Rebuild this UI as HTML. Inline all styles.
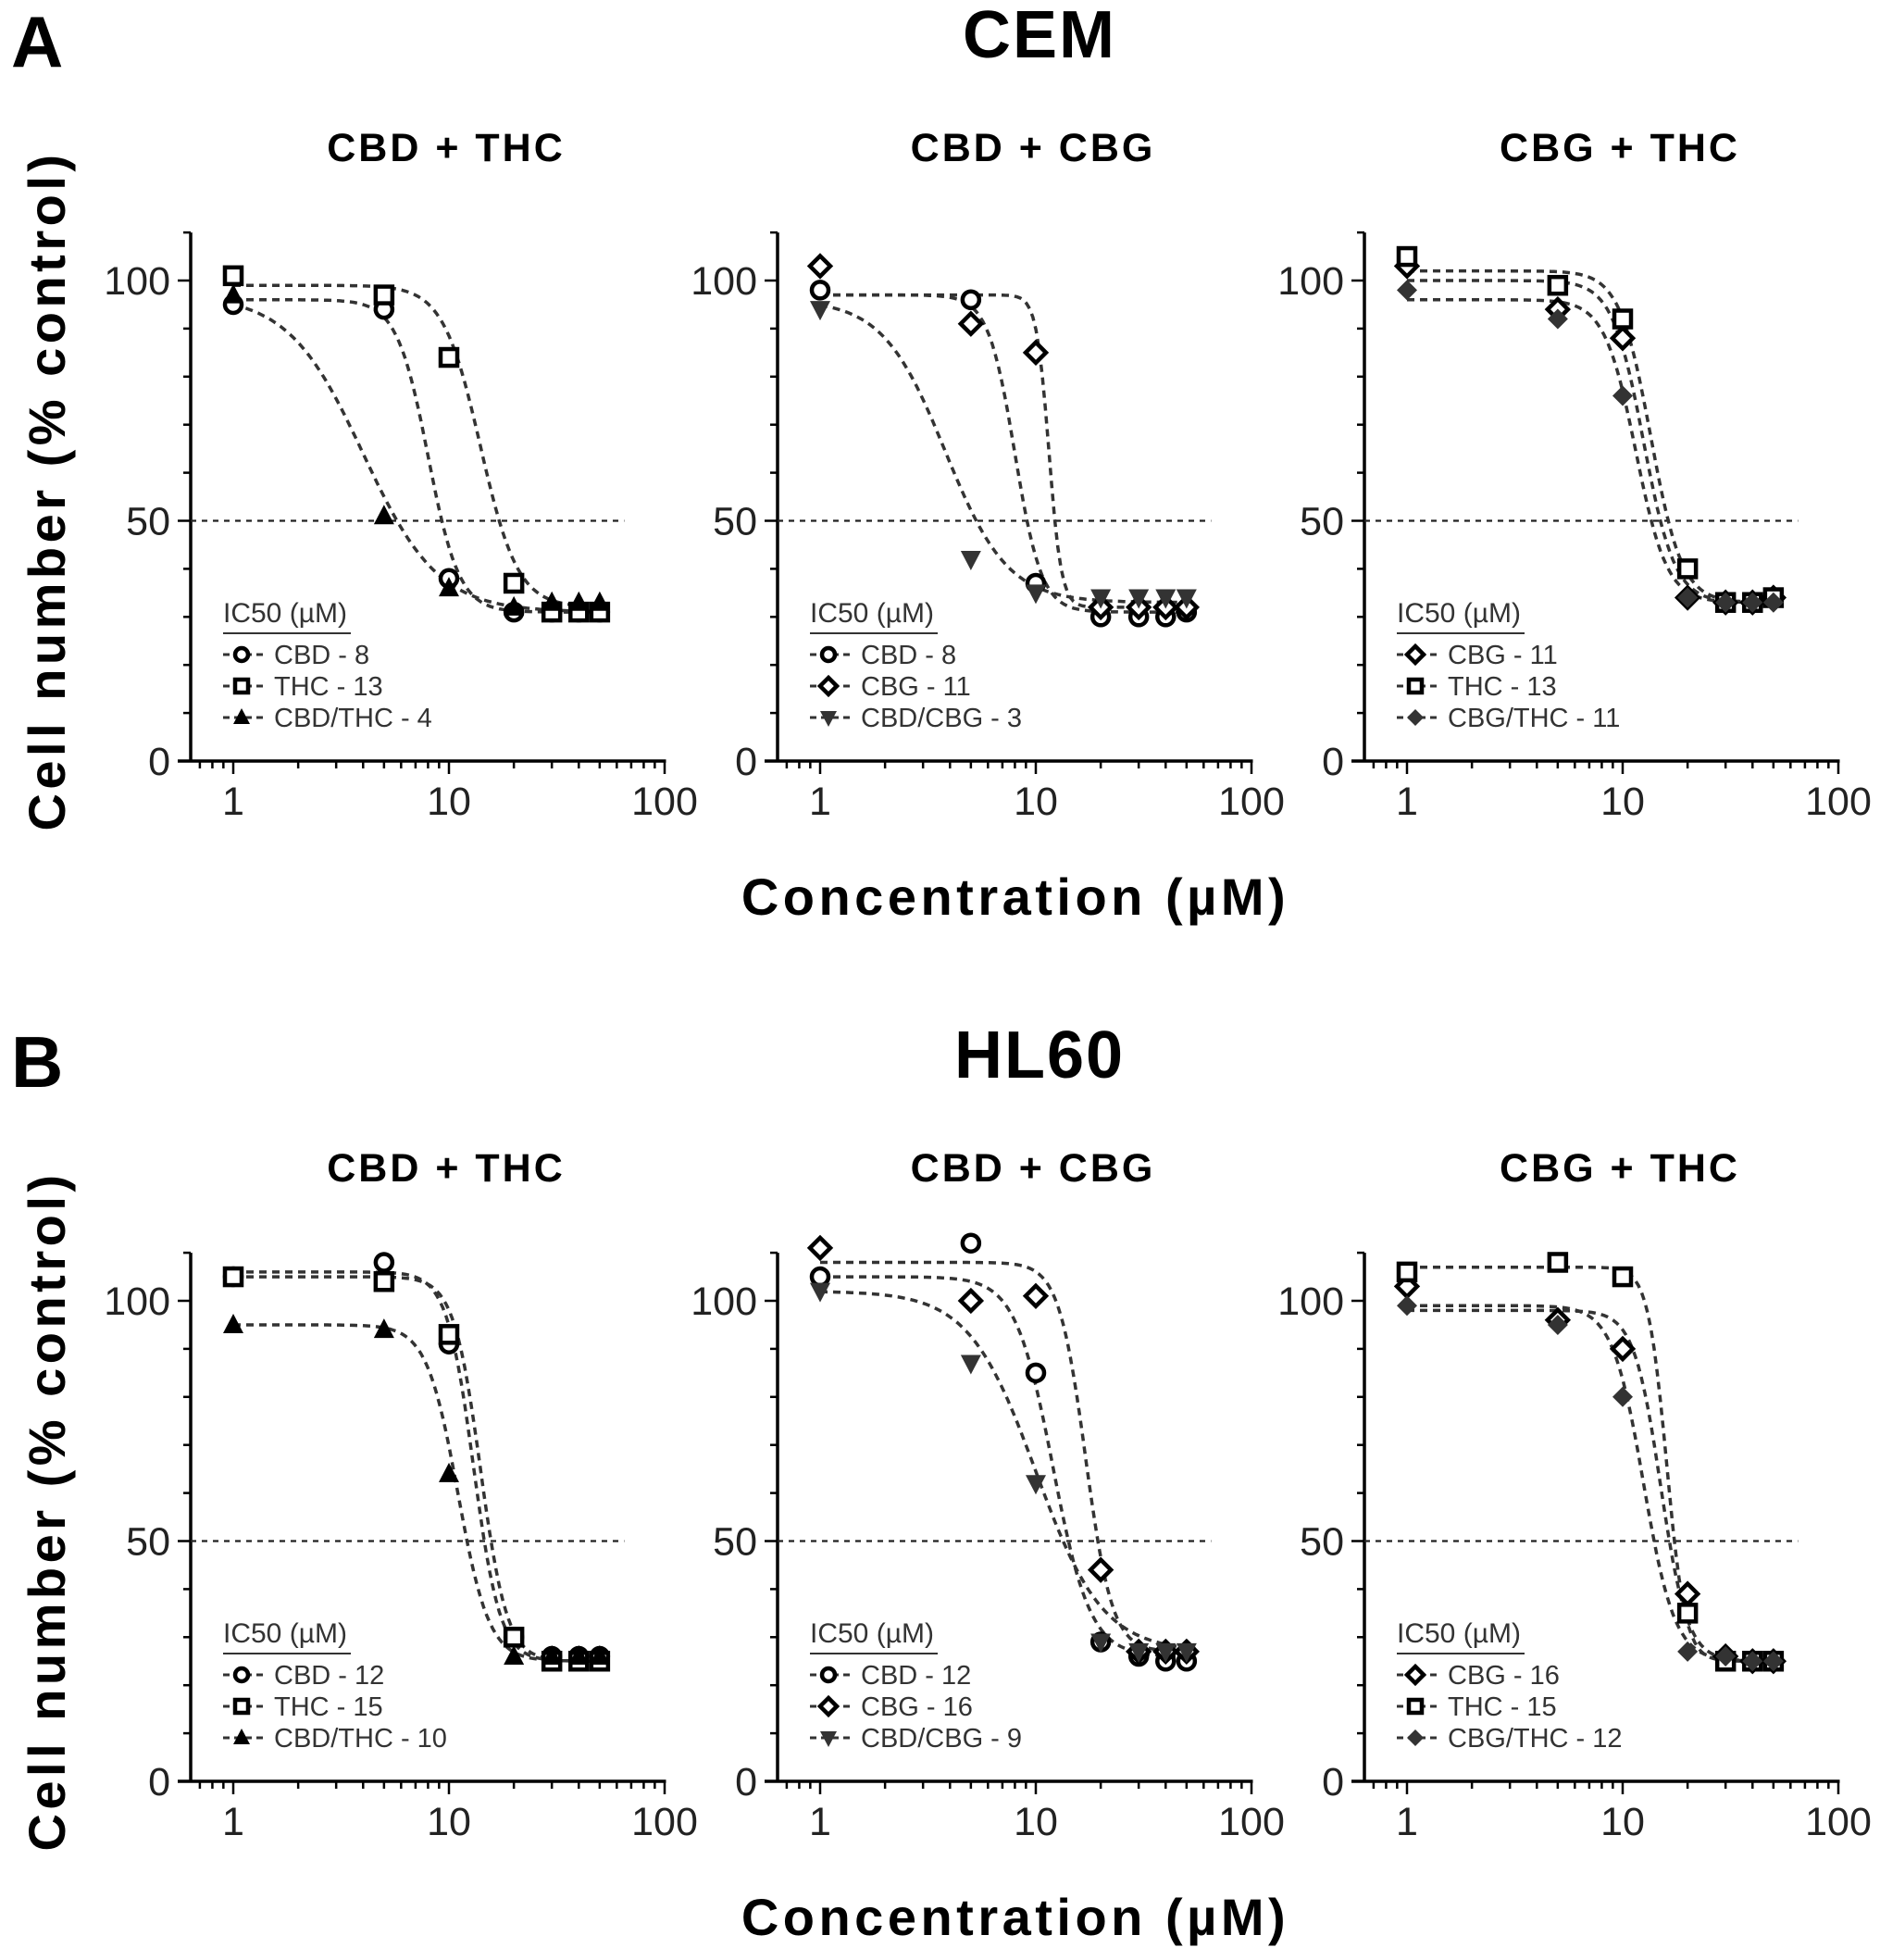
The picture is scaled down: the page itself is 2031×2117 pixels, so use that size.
<!DOCTYPE html>
<html><head><meta charset="utf-8">
<style>
html,body{margin:0;padding:0;background:#fff;}
svg{display:block;font-family:"Liberation Sans",Arial,sans-serif;}
</style></head>
<body>
<svg id="fig" width="2031" height="2117" viewBox="0 0 2031 2117" xmlns="http://www.w3.org/2000/svg"></svg>
<script>
const concentrations = [1, 5, 10, 20, 30, 40, 50];
const yTicks = [0, 50, 100];
const xTickLabels = ["1", "10", "100"];
const sectionTitles = ["CEM", "HL60"];
const sectionLetters = ["A", "B"];
const panelTitles = ["CBD + THC", "CBD + CBG", "CBG + THC"];

const seriesLabels = [
  ["CBD - 8", "THC - 13", "CBD/THC - 4"],
  ["CBD - 8", "CBG - 11", "CBD/CBG - 3"],
  ["CBG - 11", "THC - 13", "CBG/THC - 11"],
  ["CBD - 12", "THC - 15", "CBD/THC - 10"],
  ["CBD - 12", "CBG - 16", "CBD/CBG - 9"],
  ["CBG - 16", "THC - 15", "CBG/THC - 12"]
];
const seriesMarkers = [
  ["circle", "square", "triangle"],
  ["circle", "diamond", "tridown"],
  ["diamond", "square", "filldiamond"],
  ["circle", "square", "triangle"],
  ["circle", "diamond", "tridown"],
  ["diamond", "square", "filldiamond"]
];
const panelA1 = [[95, 94, 38, 31, 31, 31, 31], [101, 97, 84, 37, 31, 31, 31], [97, 51, 36, 32, 33, 33, 33]];
const panelA2 = [[98, 96, 37, 30, 30, 30, 31], [103, 91, 85, 32, 32, 32, 32], [94, 42, 35, 34, 34, 34, 34]];
const panelA3 = [[103, 94, 88, 34, 33, 33, 34], [105, 99, 92, 40, 33, 33, 34], [98, 92, 76, 34, 33, 33, 33]];
const panelB1 = [[105, 108, 91, 30, 26, 26, 26], [105, 104, 93, 30, 25, 25, 25], [95, 94, 64, 26, 26, 26, 26]];
const panelB2 = [[105, 112, 85, 29, 26, 25, 25], [111, 100, 101, 44, 27, 27, 27], [102, 87, 62, 29, 27, 27, 27]];
const panelB3 = [[103, 96, 90, 39, 26, 25, 25], [106, 108, 105, 35, 25, 25, 25], [99, 95, 80, 27, 26, 25, 25]];
const panelValues = [panelA1, panelA2, panelA3, panelB1, panelB2, panelB3];
const fitA1 = [[96, 31, 8, 6], [99, 32, 14, 5], [97, 31, 4, 2.5]];
const fitA2 = [[97, 31, 8, 7], [97, 32, 11.5, 15], [96, 33, 3.8, 3]];
const fitA3 = [[100, 33, 12.5, 6], [102, 33, 13.5, 6], [96, 33, 11.5, 6]];
const fitB1 = [[106, 25, 13, 7], [105, 25, 14, 7], [95, 25, 11, 6]];
const fitB2 = [[105, 26, 12, 5], [108, 27, 17, 7], [102, 27, 10, 2.8]];
const fitB3 = [[98, 25, 15, 7], [107, 25, 16, 10], [99, 25, 12.5, 6]];
const panelFits = [fitA1, fitA2, fitA3, fitB1, fitB2, fitB3];

const NS = "http://www.w3.org/2000/svg";
const svg = document.getElementById("fig");
function mk(tag, attrs, parent) {
  const e = document.createElementNS(NS, tag);
  for (const k in attrs) e.setAttribute(k, attrs[k]);
  (parent || svg).appendChild(e);
  return e;
}
function txt(s, attrs, parent) { const e = mk("text", attrs, parent); e.textContent = s; return e; }

const AX0 = 206, PANEL_DX = 634, ROW_DY = 1102;
const Y0 = 822, PX_PER_UNIT = 5.19, DECADE = 233;

for (let r = 0; r < 2; r++) {
  const oy = r * ROW_DY;
  const L = txt(sectionLetters[r], {x: 12, y: 72 + oy, "font-size": 78, "font-weight": "bold", "letter-spacing": 2});
  
  
  const T = txt(sectionTitles[r], {x: 1123, y: 62 + oy, "font-size": 72, "font-weight": "bold", "text-anchor": "middle", "letter-spacing": 2});
  
  
  const yl = txt("Cell number (% control)", {x: 0, y: 0, "font-size": 56, "font-weight": "bold", "text-anchor": "middle", "letter-spacing": 4.5, transform: `translate(70,${530 + oy}) rotate(-90)`});
  
  
  const xl = txt("Concentration (µM)", {x: 1097, y: 988 + oy, "font-size": 56, "font-weight": "bold", "text-anchor": "middle", "letter-spacing": 4.5});
  
  

  for (let c = 0; c < 3; c++) {
    const p = r * 3 + c;
    const ax = AX0 + c * PANEL_DX;
    const x1 = ax + 46;
    const g = mk("g", {});
    
    
    const xs = v => x1 + Math.log10(v) * DECADE;
    const ys = v => Y0 + oy - v * PX_PER_UNIT;
    const xEnd = xs(100);
    const pt = txt(panelTitles[c], {x: ax + 276, y: 174 + oy, "font-size": 43, "font-weight": "bold", "text-anchor": "middle", "letter-spacing": 3}, g);
    
    
    const yax = mk("line", {x1: ax, y1: ys(110), x2: ax, y2: ys(0), stroke: "#000", "stroke-width": 3.5}, g);
    
    
    const xax = mk("line", {x1: ax - 14, y1: ys(0), x2: xEnd + 1.5, y2: ys(0), stroke: "#000", "stroke-width": 3.5}, g);
    
    
    for (let v = 0; v <= 110; v += 10) {
      const major = yTicks.includes(v);
      mk("line", {x1: ax - (major ? 14 : 8), y1: ys(v), x2: ax, y2: ys(v), stroke: "#000", "stroke-width": 2.5}, g);
    }
    yTicks.forEach(v => {
      const t = txt(String(v), {x: ax - 22, y: ys(v) + 15, "font-size": 43, "text-anchor": "end", fill: "#222"}, g);
      
      
    });
    const minors = [0.7, 0.8, 0.9];
    for (let d = 1; d <= 10; d *= 10) for (let k = 2; k <= 9; k++) minors.push(k * d);
    minors.forEach(v => mk("line", {x1: xs(v), y1: ys(0), x2: xs(v), y2: ys(0) + 8, stroke: "#000", "stroke-width": 2.5}, g));
    xTickLabels.forEach(s => {
      const v = parseFloat(s);
      mk("line", {x1: xs(v), y1: ys(0), x2: xs(v), y2: ys(0) + 14, stroke: "#000", "stroke-width": 2.5}, g);
      const t = txt(s, {x: xs(v), y: ys(0) + 58, "font-size": 43, "text-anchor": "middle", fill: "#222"}, g);
      
      
    });
    const ref = mk("line", {x1: ax, y1: ys(50), x2: xs(65), y2: ys(50), stroke: "#222", "stroke-width": 2.2, "stroke-dasharray": "6,6"}, g);
    
    
    panelFits[p].forEach((f, si) => {
      const [top, bot, ic, h] = f;
      let d = "";
      for (let i = 0; i <= 120; i++) {
        const lx = i / 120 * Math.log10(55);
        const v = Math.pow(10, lx);
        const y = bot + (top - bot) / (1 + Math.pow(v / ic, h));
        d += (i ? "L" : "M") + xs(v).toFixed(1) + "," + ys(y).toFixed(1);
      }
      const c1 = mk("path", {d: d, fill: "none", stroke: "#333", "stroke-width": 3.5, "stroke-dasharray": "8,6"}, g);
      
      
    });
    function marker(type, cx, cy, parent, s) {
      s = s || 10;
      let e;
      const sw = 4.5;
      if (type === "circle") e = mk("circle", {cx, cy, r: s - 1, fill: "#fff", stroke: "#000", "stroke-width": sw}, parent);
      else if (type === "square") e = mk("rect", {x: cx - s + 1, y: cy - s + 1, width: 2 * s - 2, height: 2 * s - 2, fill: "#fff", stroke: "#000", "stroke-width": sw}, parent);
      else if (type === "triangle") e = mk("polygon", {points: `${cx},${cy - s - 2} ${cx + s + 1},${cy + s - 1} ${cx - s - 1},${cy + s - 1}`, fill: "#000"}, parent);
      else if (type === "tridown") e = mk("polygon", {points: `${cx},${cy + s + 2} ${cx + s + 1},${cy - s + 1} ${cx - s - 1},${cy - s + 1}`, fill: "#333"}, parent);
      else if (type === "diamond") e = mk("polygon", {points: `${cx},${cy - s - 1} ${cx + s + 1},${cy} ${cx},${cy + s + 1} ${cx - s - 1},${cy}`, fill: "#fff", stroke: "#000", "stroke-width": sw}, parent);
      else e = mk("polygon", {points: `${cx},${cy - s - 1} ${cx + s + 1},${cy} ${cx},${cy + s + 1} ${cx - s - 1},${cy}`, fill: "#333"}, parent);
      return e;
    }
    panelValues[p].forEach((vals, si) => {
      vals.forEach((v, i) => {
        const m = marker(seriesMarkers[p][si], xs(concentrations[i]), ys(v), g);
        
        
      });
    });
    const lg = mk("g", {}, g);
    
    
    const lx = ax + 35;
    const lt = txt("IC50 (µM)", {x: lx, y: 672 + oy, "font-size": 30, fill: "#333"}, lg);
    
    
    mk("line", {x1: lx, y1: 684 + oy, x2: lx + 138, y2: 684 + oy, stroke: "#333", "stroke-width": 2}, lg);
    seriesLabels[p].forEach((s, si) => {
      const yy = 707 + oy + si * 34;
      const e = mk("g", {}, lg);
      
      
      mk("line", {x1: lx, y1: yy, x2: lx + 45, y2: yy, stroke: "#333", "stroke-width": 3, "stroke-dasharray": "7,5"}, e);
      marker(seriesMarkers[p][si], lx + 20, yy, e, 8);
      txt(s, {x: lx + 55, y: yy + 10, "font-size": 29, fill: "#333"}, e);
    });
  }
}
</script>
</body></html>
